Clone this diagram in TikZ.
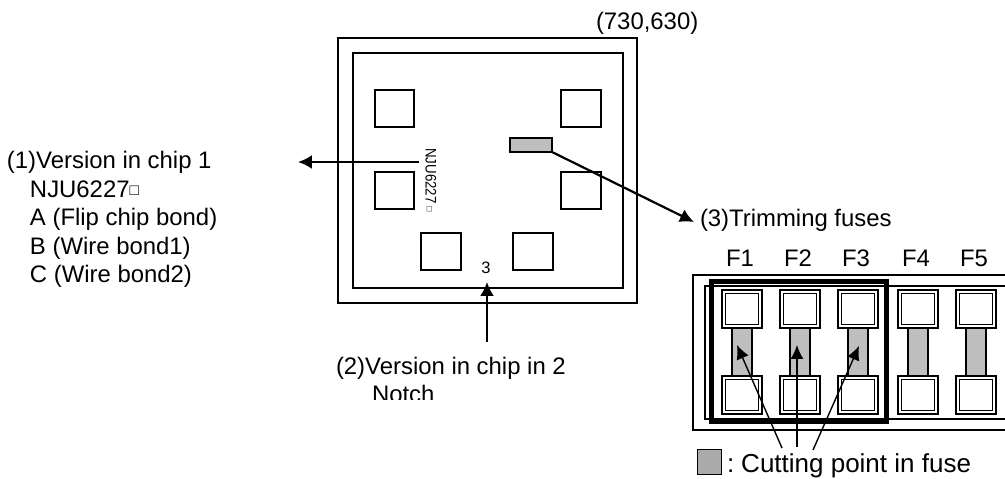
\documentclass[tikz,border=0pt]{standalone}
\usepackage{fontspec}
\setmainfont{Liberation Sans}
\usetikzlibrary{arrows.meta}
\definecolor{fusegray}{HTML}{BEBEBE}
\tikzset{
  box/.style={draw,line width=.04cm,fill=white,inner sep=0pt,outer sep=0pt},
  bondpad/.style={box,minimum width=.8cm,minimum height=.74cm},
  padout/.style={box,line width=.036cm,minimum width=.8cm,minimum height=.76cm},
  padin/.style={box,line width=.036cm,minimum width=.66cm,minimum height=.62cm},
  fusebar/.style={box,fill=fusegray,minimum width=.4cm,minimum height=1cm},
  txt/.style={font=\fontsize{13.6pt}{15pt}\selectfont,inner sep=0pt,outer sep=0pt,anchor=base west},
  thin arrow/.style={-{Latex[length=.28cm,width=.26cm]},line width=.028cm},
  thick arrow/.style={-{Latex[length=.28cm,width=.28cm]},line width=.044cm}
}
\begin{document}
\begin{tikzpicture}[x=.02cm,y=-.02cm]
        \useasboundingbox (0,0) rectangle (1005,479);
        % chip
        \draw[line width=.04cm] (338,38) rectangle (637,303);
        \draw[line width=.04cm] (353,53) rectangle (623,288);
        \node[bondpad](p1)at(394.5,109){};
        \node[bondpad](p2)at(581,109){};
        \node[bondpad](p3)at(394.5,191){};
        \node[bondpad](p4)at(581,191){};
        \node[bondpad](p5)at(441,251.5){};
        \node[bondpad](p6)at(533,251.5){};
        \node[box,fill=fusegray,minimum width=.84cm,minimum height=.28cm](trim)at(531,145){};
        \node[rotate=-90,font=\fontsize{8.7pt}{10pt}\selectfont,inner sep=0pt](ver)at(431,180){\scalebox{.87}[1]{NJU6227}\,{\tiny\raisebox{.6pt}{□}}};
        \node[font=\fontsize{9.4pt}{10pt}\selectfont,inner sep=0pt](three)at(486,268){3};
        % labels
        \node[txt](corner)at(596,30){(730,630)};
        \node[txt](l1)at(7,169){(1)Version in chip 1};
        \node[txt](l2)at(30,198){NJU6227{\small\raisebox{1.6pt}{□}}};
        \node[txt](l3)at(30,226){A (Flip chip bond)};
        \node[txt](l4)at(30,255){B (Wire bond1)};
        \node[txt](l5)at(30,283){C (Wire bond2)};
        \node[txt](l6)at(336,375){(2)Version in chip in 2};
        \begin{scope}
          \clip (360,380) rectangle (450,400);
          \node[txt](l7)at(372,403){Notch};
        \end{scope}
        \node[txt](l8)at(700,227){(3)Trimming fuses};
        % arrows
        \coordinate (from1) at (419,162);
        \coordinate (to1) at (298,162);
        \coordinate (from2) at (487,342);
        \coordinate (to2) at (487,282);
        \coordinate (to3) at (694,222);
        \draw[thick arrow](from1)--(to1);
        \draw[thick arrow](from2)--(to2);
        \draw[thick arrow](trim.south east)--(to3);
        % fuses
        \draw[line width=.04cm] (1005,275)--(693,275)--(693,430)--(1005,430);
        \draw[line width=.04cm] (1005,286)--(705,286)--(705,419)--(1005,419);
        \foreach \n/\x/\lab in {1/742/F1,2/800/F2,3/858/F3,4/918/F4,5/976/F5}{
          \node[fusebar](bar\n)at(\x,352){};
          \node[padout](ot\n)at(\x,309){};
          \node[padin](it\n)at(\x,309){};
          \node[padout](ob\n)at(\x,395){};
          \node[padin](ib\n)at(\x,395){};
          \node[txt,anchor=base](\lab)at(\x-2,267){\lab};
        }
        \node[draw,line width=.1cm,inner sep=0pt,outer sep=0pt,minimum width=3.5cm,minimum height=2.82cm](sel)at(799,351.5){};
        \coordinate (c1) at (782,448);
        \coordinate (c2) at (797,447);
        \coordinate (c3) at (813,450);
        \coordinate (h1) at (737,345);
        \coordinate (h2) at (797,345);
        \coordinate (h3) at (859,346);
        \draw[thin arrow](c1)--(h1);
        \draw[thin arrow](c2)--(h2);
        \draw[thin arrow](c3)--(h3);
        % legend
        \node[box,line width=.03cm,fill=fusegray!90!black,minimum width=.48cm,minimum height=.5cm](key)at(709.5,462){};
        \node[txt,font=\fontsize{14.8pt}{16pt}\selectfont](keytxt)at(727,473){:\kern-1.5pt{} Cutting point in fuse};
\end{tikzpicture}
\end{document}
